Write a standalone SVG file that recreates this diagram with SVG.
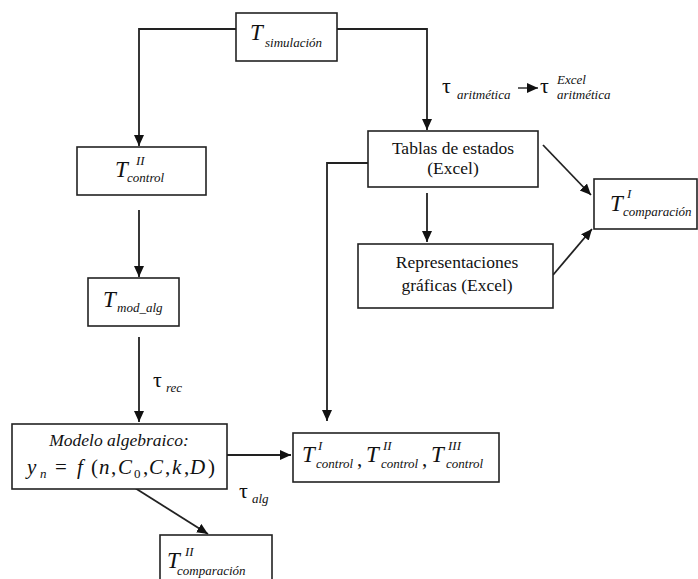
<svg xmlns="http://www.w3.org/2000/svg" width="698" height="579" viewBox="0 0 698 579" font-family="'Liberation Serif','DejaVu Serif',serif">
<defs>
<marker id="ah" markerUnits="userSpaceOnUse" markerWidth="12" markerHeight="11" refX="11" refY="5" orient="auto">
<path d="M0,0 L11,5 L0,10 z" fill="#111"/>
</marker>
<style>
.box{fill:#fff;stroke:#222;stroke-width:1.6}
.arr{fill:none;stroke:#222;stroke-width:1.8;marker-end:url(#ah)}
text{font-family:'Liberation Serif','DejaVu Serif',serif;fill:#111}
.T{font-size:23px;font-style:italic}
.sub{font-size:13px;font-style:italic}
.sup{font-size:13px;font-style:italic}
.tau{font-size:22px}
.rm{font-size:17.5px}
.it{font-size:17.5px;font-style:italic}
.eq{font-size:21px;font-style:italic}
.eqr{font-size:21px;font-style:normal}
</style>
</defs>
<rect width="698" height="579" fill="#fff"/>
<g id="connectors">
<path class="arr" d="M236,29 H139 V146"/>
<path class="arr" d="M337,29 H427 V130"/>
<path class="arr" d="M139,210 V277"/>
<path class="arr" d="M139,337 V422"/>
<path class="arr" d="M227,455 H291"/>
<path class="arr" d="M135,488 L208,534"/>
<path class="arr" d="M427,193 V242"/>
<path class="arr" d="M543,145 L591,195"/>
<path class="arr" d="M553,275 L592,229"/>
<path class="arr" d="M369,163 H327 V421"/>
<path class="arr" d="M518,88 H538" style="stroke-width:1.4"/>
</g>
<g id="labels">
<text x="442" y="93" class="tau">τ</text><text x="457" y="99" class="sub">aritmética</text>
<text x="540" y="93" class="tau">τ</text><text x="557" y="84" class="sub">Excel</text><text x="557" y="99" class="sub">aritmética</text>
<text x="153" y="387" class="tau">τ</text><text x="166" y="392" class="sub">rec</text>
<text x="239" y="498" class="tau">τ</text><text x="252" y="503" class="sub">alg</text>
</g>
<g id="n-simulacion">
<rect class="box" x="236" y="13" width="101" height="48"/>
<text x="250" y="40" class="T">T</text><text x="265" y="47" class="sub">simulación</text>
</g>
<g id="n-control2">
<rect class="box" x="77" y="147" width="129" height="48"/>
<text x="115" y="177" class="T">T</text><text x="136" y="165" class="sup">II</text><text x="127" y="182" class="sub">control</text>
</g>
<g id="n-modalg">
<rect class="box" x="88" y="278" width="91" height="48"/>
<text x="103" y="307" class="T">T</text><text x="117" y="312" class="sub">mod_alg</text>
</g>
<g id="n-modelo">
<rect class="box" x="12" y="424" width="215" height="65"/>
<text x="119" y="446" class="it" text-anchor="middle">Modelo algebraico:</text>
<text y="474" class="eq"><tspan x="27">y</tspan><tspan x="40" dy="4" class="sub">n</tspan><tspan x="55" dy="-4" class="eqr">=</tspan><tspan x="77">f</tspan><tspan x="91" class="eqr">(</tspan><tspan x="99">n</tspan><tspan x="111" class="eqr">,</tspan><tspan x="118">C</tspan><tspan x="134" dy="4" class="sub" style="font-style:normal">0</tspan><tspan x="143" dy="-4" class="eqr">,</tspan><tspan x="149">C</tspan><tspan x="165" class="eqr">,</tspan><tspan x="172">k</tspan><tspan x="184" class="eqr">,</tspan><tspan x="190">D</tspan><tspan x="208" class="eqr">)</tspan></text>
</g>
<g id="n-comparacion2">
<rect class="box" x="160" y="535" width="112" height="60"/>
<text x="167" y="568" class="T">T</text><text x="185" y="556" class="sup">II</text><text x="177" y="575" class="sub">comparación</text>
</g>
<g id="n-controls">
<rect class="box" x="293" y="433" width="206" height="49"/>
<text x="302" y="462" class="T">T</text><text x="318" y="450" class="sup">I</text><text x="316" y="468" class="sub">control</text><text x="357" y="466" class="eqr">,</text>
<text x="366" y="462" class="T">T</text><text x="383" y="450" class="sup">II</text><text x="381" y="468" class="sub">control</text><text x="422" y="466" class="eqr">,</text>
<text x="431" y="462" class="T">T</text><text x="448" y="450" class="sup">III</text><text x="446" y="468" class="sub">control</text>
</g>
<g id="n-tablas">
<rect class="box" x="368" y="131" width="170" height="56"/>
<text x="453" y="154" class="rm" text-anchor="middle">Tablas de estados</text>
<text x="453" y="174" class="rm" text-anchor="middle">(Excel)</text>
</g>
<g id="n-representaciones">
<rect class="box" x="358" y="244" width="195" height="64"/>
<text x="457" y="268" class="rm" text-anchor="middle">Representaciones</text>
<text x="457" y="291" class="rm" text-anchor="middle">gráficas (Excel)</text>
</g>
<g id="n-comparacion1">
<rect class="box" x="594" y="179" width="103" height="50"/>
<text x="610" y="211" class="T">T</text><text x="627" y="198" class="sup">I</text><text x="623" y="216" class="sub">comparación</text>
</g>
</svg>
